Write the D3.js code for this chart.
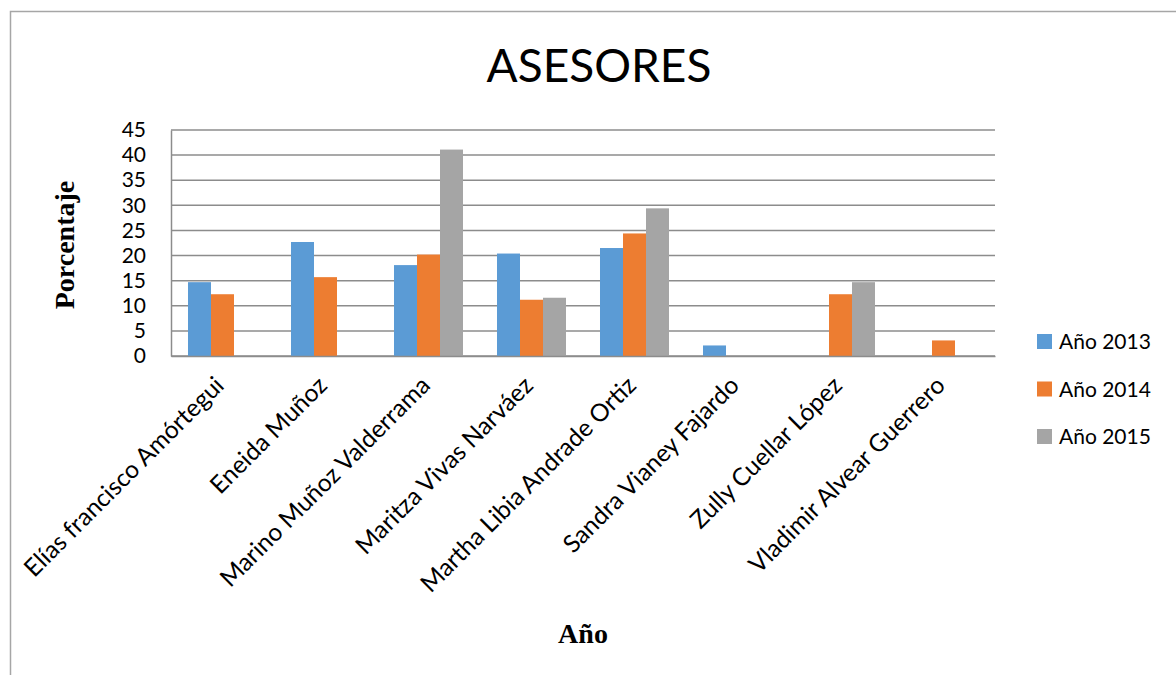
<!DOCTYPE html>
<html>
<head>
<meta charset="utf-8">
<script src="https://cdn.jsdelivr.net/npm/d3@7"></script>
<style>
  body { margin: 0; background: #fff; }
  text { font-family: Lato, "Open Sans", sans-serif; }
</style>
</head>
<body>
<svg id="chart" width="1176" height="675"></svg>
<script>
// Datos
var asesores = ["Elías francisco Amórtegui", "Eneida Muñoz", "Marino Muñoz Valderrama",
  "Maritza Vivas Narváez", "Martha Libia Andrade Ortiz", "Sandra Vianey Fajardo",
  "Zully Cuellar López", "Vladimir Alvear Guerrero"];
var series = ["Año 2013", "Año 2014", "Año 2015"];
var valores2013 = [14.7, 22.7, 18.1, 20.4, 21.5, 2.1, 0, 0];
var valores2014 = [12.3, 15.7, 20.2, 11.2, 24.4, 0, 12.3, 3.1];
var valores2015 = [0, 0, 41.1, 11.6, 29.4, 0, 14.7, 0];
var yTicks = [0, 5, 10, 15, 20, 25, 30, 35, 40, 45];
var colores = ["#5B9BD5", "#ED7D31", "#A5A5A5"];

var svg = d3.select("#chart");
var margin = { left: 171, right: 181, top: 130, bottom: 319 };
var width = 1176 - margin.left - margin.right,
    height = 675 - margin.top - margin.bottom;

// marco exterior
svg.append("path")
    .attr("d", "M10.5,675 V11.5 H1176")
    .attr("fill", "none")
    .attr("stroke", "#a6a6a6")
    .attr("stroke-width", 1.5);

var g = svg.append("g").attr("transform", "translate(" + margin.left + "," + margin.top + ")");

var x0 = d3.scaleBand()
    .domain(asesores)
    .range([0, width])
    .paddingInner(0.33)
    .paddingOuter(0.165);

var x1 = d3.scaleBand()
    .domain(series)
    .range([0, x0.bandwidth()]);

var y = d3.scaleLinear()
    .domain([0, 45])
    .range([height, 0]);

// líneas de cuadrícula
g.append("g")
    .selectAll("line")
    .data(yTicks)
    .enter().append("line")
    .attr("x1", 0)
    .attr("x2", width)
    .attr("y1", function (d) { return y(d); })
    .attr("y2", function (d) { return y(d); })
    .attr("stroke", "#8c8c8c")
    .attr("stroke-width", 1.5);

// eje y
var yAxis = g.append("g")
    .call(d3.axisLeft(y).tickValues(yTicks).tickSize(0).tickPadding(25));
yAxis.select(".domain").attr("stroke", "#8c8c8c").attr("stroke-width", 1.5);
yAxis.selectAll("text")
    .attr("font-size", 21)
    .attr("fill", "#000")
    .style("font-family", "Lato, sans-serif");

// barras
var data = asesores.map(function (a, i) {
    return { name: a, values: [valores2013[i], valores2014[i], valores2015[i]] };
});

var groups = g.selectAll(".grupo")
    .data(data)
    .enter().append("g")
    .attr("class", "grupo")
    .attr("transform", function (d) { return "translate(" + x0(d.name) + ",0)"; });

groups.selectAll("rect")
    .data(function (d) {
        return d.values.map(function (v, j) { return { serie: series[j], value: v, color: colores[j] }; });
    })
    .enter().append("rect")
    .filter(function (d) { return d.value > 0; })
    .attr("x", function (d) { return x1(d.serie); })
    .attr("width", x1.bandwidth())
    .attr("y", function (d) { return y(d.value); })
    .attr("height", function (d) { return height - y(d.value); })
    .attr("fill", function (d) { return d.color; });

// eje x (etiquetas rotadas)
var xAxis = g.append("g")
    .attr("transform", "translate(0," + height + ")")
    .call(d3.axisBottom(x0).tickSize(0).tickPadding(0));
xAxis.select(".domain").attr("stroke", "#8c8c8c").attr("stroke-width", 1.5);
xAxis.selectAll("text")
    .attr("font-size", 24.5)
    .attr("fill", "#000")
    .style("font-family", "Lato, sans-serif")
    .attr("text-anchor", "end")
    .attr("dy", "0")
    .attr("transform", "translate(3,31) rotate(-45)");

// título
svg.append("text")
    .attr("x", 599)
    .attr("y", 82)
    .attr("text-anchor", "middle")
    .attr("font-size", 46)
    .text("ASESORES");

// títulos de ejes
svg.append("text")
    .attr("transform", "translate(74,245) rotate(-90)")
    .attr("text-anchor", "middle")
    .attr("font-size", 28)
    .attr("font-weight", "bold")
    .style("font-family", "'Liberation Serif', 'DejaVu Serif', serif")
    .text("Porcentaje");

svg.append("text")
    .attr("x", 583)
    .attr("y", 643)
    .attr("text-anchor", "middle")
    .attr("font-size", 28)
    .attr("font-weight", "bold")
    .style("font-family", "'Liberation Serif', 'DejaVu Serif', serif")
    .text("Año");

// leyenda
var legend = svg.append("g")
    .selectAll("g")
    .data(series)
    .enter().append("g")
    .attr("transform", function (d, i) { return "translate(1037," + (334 + i * 47.5) + ")"; });

legend.append("rect")
    .attr("width", 15)
    .attr("height", 15)
    .attr("fill", function (d, i) { return colores[i]; });

legend.append("text")
    .attr("x", 22)
    .attr("y", 15)
    .attr("font-size", 21)
    .text(function (d) { return d; });
</script>
</body>
</html>
